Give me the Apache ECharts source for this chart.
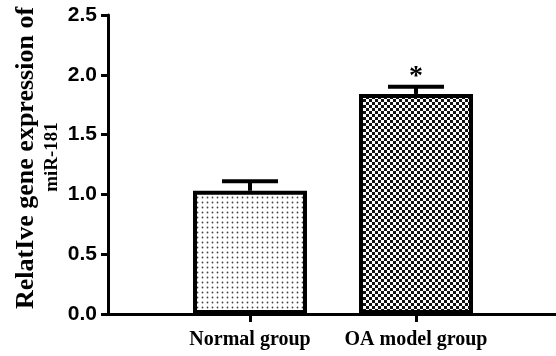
<!DOCTYPE html>
<html>
<head>
<meta charset="utf-8">
<script src="https://cdn.jsdelivr.net/npm/echarts@6/dist/echarts.min.js"></script>
<style>
  html, body { margin: 0; padding: 0; background: #fff; }
  #chart { width: 556px; height: 356px; }
</style>
</head>
<body>
<div id="chart"></div>
<script>
// data
const categories = ['Normal group', 'OA model group']
const means = [1.03, 1.84]
const errors = [0.08, 0.06]
const marks = ['', '*']
const yTicks = [0, 0.5, 1.0, 1.5, 2.0, 2.5]

// fill patterns: dots for the normal group, checks for the OA group
function dotPattern () {
  const c = document.createElement('canvas')
  c.width = 5
  c.height = 5
  const ctx = c.getContext('2d')
  ctx.fillStyle = '#fff'
  ctx.fillRect(0, 0, 5, 5)
  ctx.fillStyle = '#444'
  ctx.beginPath()
  ctx.arc(2.5, 2.5, 0.9, 0, Math.PI * 2)
  ctx.fill()
  return c
}
function checkPattern () {
  const c = document.createElement('canvas')
  c.width = 6
  c.height = 6
  const ctx = c.getContext('2d')
  ctx.fillStyle = '#fff'
  ctx.fillRect(0, 0, 6, 6)
  ctx.fillStyle = '#111'
  ctx.fillRect(0, 0, 3, 3)
  ctx.fillRect(3, 3, 3, 3)
  return c
}
const fills = [dotPattern(), checkPattern()]

const chart = echarts.init(document.getElementById('chart'))

const serif = 'Liberation Serif, Times New Roman, serif'
const sans = 'Liberation Sans, Arial, sans-serif'

const option = {
  animation: false,
  backgroundColor: '#fff',
  grid: [
    // bars live here
    { left: 167, right: 57, top: 15, bottom: 42 },
    // full-width frame with the axis lines
    { left: 108, right: 0, top: 15, bottom: 42 }
  ],
  xAxis: [
    {
      type: 'category',
      gridIndex: 0,
      data: categories,
      axisLine: { show: false },
      axisTick: { show: true, alignWithLabel: true, length: 8, lineStyle: { color: '#000', width: 3 } },
      axisLabel: { interval: 0, color: '#000', fontFamily: serif, fontWeight: 'bold', fontSize: 20, margin: 16 }
    },
    {
      type: 'value',
      gridIndex: 1,
      min: 0,
      max: 1,
      axisLine: { show: true, onZero: false, lineStyle: { color: '#000', width: 3 } },
      axisTick: { show: false },
      axisLabel: { show: false },
      splitLine: { show: false }
    }
  ],
  yAxis: [
    {
      type: 'value',
      gridIndex: 0,
      min: yTicks[0],
      max: yTicks[yTicks.length - 1],
      interval: 0.5,
      show: false
    },
    {
      type: 'value',
      gridIndex: 1,
      min: yTicks[0],
      max: yTicks[yTicks.length - 1],
      interval: 0.5,
      axisLine: { show: true, lineStyle: { color: '#000', width: 3 } },
      axisTick: { show: true, length: 7, lineStyle: { color: '#000', width: 3 } },
      axisLabel: {
        color: '#000',
        fontFamily: sans,
        fontWeight: 'bold',
        fontSize: 21,
        margin: 11,
        formatter: v => v.toFixed(1)
      },
      splitLine: { show: false }
    }
  ],
  graphic: [
    {
      type: 'text',
      x: 26,
      y: 158,
      rotation: Math.PI / 2,
      style: {
        text: 'RelatIve gene expression of',
        font: 'bold 26px ' + serif,
        fill: '#000',
        textAlign: 'center',
        textVerticalAlign: 'middle'
      }
    },
    {
      type: 'text',
      x: 52,
      y: 157,
      rotation: Math.PI / 2,
      style: {
        text: 'miR-181',
        font: 'bold 19px ' + serif,
        fill: '#000',
        textAlign: 'center',
        textVerticalAlign: 'middle'
      }
    }
  ],
  series: [
    {
      type: 'bar',
      xAxisIndex: 0,
      yAxisIndex: 0,
      barWidth: 114,
      data: means.map((v, i) => ({
        value: v,
        itemStyle: {
          color: { image: fills[i], repeat: 'repeat' },
          borderColor: '#000',
          borderWidth: 4
        }
      })),
      z: 2
    },
    {
      // error bars + significance star
      type: 'custom',
      xAxisIndex: 0,
      yAxisIndex: 0,
      data: means.map((v, i) => [i, v, v + errors[i]]),
      z: 3,
      renderItem: function (params, api) {
        const i = api.value(0)
        const base = api.coord([i, api.value(1)])
        const top = api.coord([i, api.value(2)])
        const half = 28
        const children = [
          {
            type: 'line',
            shape: { x1: base[0], y1: base[1], x2: top[0], y2: top[1] },
            style: { stroke: '#000', lineWidth: 4 }
          },
          {
            type: 'line',
            shape: { x1: top[0] - half, y1: top[1], x2: top[0] + half, y2: top[1] },
            style: { stroke: '#000', lineWidth: 4 }
          }
        ]
        if (marks[params.dataIndex]) {
          children.push({
            type: 'text',
            x: top[0],
            y: top[1] - 10,
            style: {
              text: marks[params.dataIndex],
              font: 'bold 28px ' + serif,
              fill: '#000',
              textAlign: 'center',
              textVerticalAlign: 'middle'
            }
          })
        }
        return { type: 'group', children: children }
      }
    }
  ]
}

chart.setOption(option)
</script>
</body>
</html>
